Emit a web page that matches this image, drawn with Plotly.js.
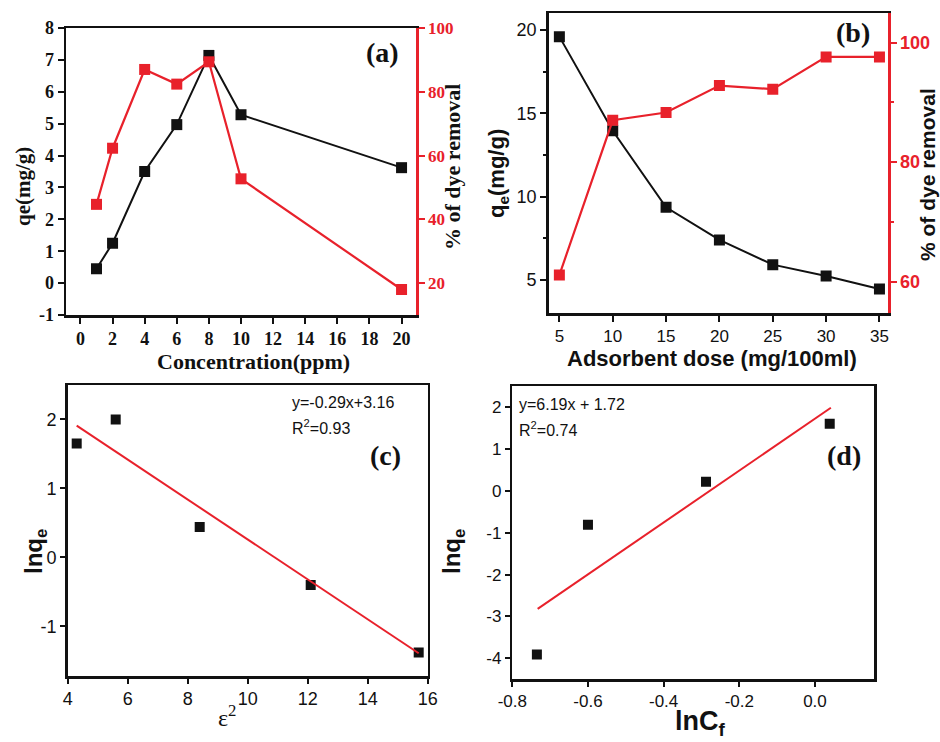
<!DOCTYPE html>
<html>
<head>
<meta charset="utf-8">
<script src="https://cdn.plot.ly/plotly-3.0.1.min.js"></script>
<style>html,body{margin:0;padding:0;background:#fff;}#chart{width:940px;height:742px;}</style>
</head>
<body>
<div id="chart"></div>
<script>
// ---- Data ----
// (a) effect of concentration
const concA = [1, 2, 4, 6, 8, 10, 20];
const qeA = [0.45, 1.25, 3.5, 4.97, 7.14, 5.28, 3.62];
const remA = [44.7, 62.3, 87.0, 82.4, 89.4, 52.7, 18.0];
const xTicksA = [0, 2, 4, 6, 8, 10, 12, 14, 16, 18, 20];
const yTicksA = [-1, 0, 1, 2, 3, 4, 5, 6, 7, 8];
const yLabelsA = ['-1', '0', '1', '2', '3', '4', '5', '6', '7', '8'];
const y2TicksA = [20, 40, 60, 80, 100];

// (b) effect of adsorbent dose
const doseB = [5, 10, 15, 20, 25, 30, 35];
const qeB = [19.6, 13.95, 9.36, 7.4, 5.92, 5.24, 4.46];
const remB = [61.1, 87.0, 88.3, 92.8, 92.2, 97.6, 97.6];
const yTicksB = [5, 10, 15, 20];
const y2TicksB = [60, 80, 100];

// (c) D-R isotherm
const eps2C = [4.3, 5.6, 8.4, 12.1, 15.7];
const lnqeC = [1.65, 2.0, 0.44, -0.40, -1.38];
const fitXC = [4.3, 15.7];
const fitYC = [1.91, -1.39];
const yTicksC = [-1, 0, 1, 2];
const yLabelsC = ['-1', '0', '1', '2'];

// (d) Freundlich-type fit
const lnCfD = [-0.735, -0.60, -0.288, 0.039];
const lnqeD = [-3.91, -0.81, 0.215, 1.60];
const fitXD = [-0.733, 0.042];
const fitYD = [-2.82, 1.98];
const xTicksD = [-0.8, -0.6, -0.4, -0.2, 0.0];
const xLabelsD = ['-0.8', '-0.6', '-0.4', '-0.2', '0.0'];
const yTicksD = [-4, -3, -2, -1, 0, 1, 2];
const yLabelsD = ['-4', '-3', '-2', '-1', '0', '1', '2'];

// ---- Styling ----
const W = 940, H = 742;
const RED = '#e8212b';
const SERIF = 'Liberation Serif, Times New Roman, serif';
const SANS = 'Liberation Sans, Arial, sans-serif';
const px = v => v / W;
const py = v => 1 - v / H;

const blackMarker = {symbol: 'square', size: 11, color: '#111'};
const redMarker = {symbol: 'square', size: 11, color: RED};

const traces = [
  {x: concA, y: qeA, xaxis: 'x', yaxis: 'y', mode: 'lines+markers',
   line: {color: '#111', width: 2}, marker: blackMarker, name: 'qe'},
  {x: concA, y: remA, xaxis: 'x', yaxis: 'y2', mode: 'lines+markers',
   line: {color: RED, width: 2.2}, marker: redMarker, name: '% removal'},
  {x: doseB, y: qeB, xaxis: 'x2', yaxis: 'y3', mode: 'lines+markers',
   line: {color: '#111', width: 2}, marker: blackMarker, name: 'qe'},
  {x: doseB, y: remB, xaxis: 'x2', yaxis: 'y4', mode: 'lines+markers',
   line: {color: RED, width: 2.2}, marker: redMarker, name: '% removal'},
  {x: eps2C, y: lnqeC, xaxis: 'x3', yaxis: 'y5', mode: 'markers',
   marker: {symbol: 'square', size: 10, color: '#111'}, name: 'data'},
  {x: fitXC, y: fitYC, xaxis: 'x3', yaxis: 'y5', mode: 'lines',
   line: {color: RED, width: 2}, name: 'fit'},
  {x: lnCfD, y: lnqeD, xaxis: 'x4', yaxis: 'y6', mode: 'markers',
   marker: {symbol: 'square', size: 10, color: '#111'}, name: 'data'},
  {x: fitXD, y: fitYD, xaxis: 'x4', yaxis: 'y6', mode: 'lines',
   line: {color: RED, width: 2}, name: 'fit'}
];

function ax(opts) {
  return Object.assign({
    showgrid: false, zeroline: false, showline: true, linecolor: '#111',
    linewidth: 2.5, ticks: 'outside', ticklen: 6, tickwidth: 2, tickcolor: '#111',
    fixedrange: true
  }, opts);
}

const fA = {family: SERIF, size: 18, color: '#111', weight: 'bold'};
const fB = {family: SANS, size: 17, color: '#111'};

const layout = {
  width: W, height: H,
  margin: {l: 0, r: 0, t: 0, b: 0},
  paper_bgcolor: '#fff', plot_bgcolor: 'rgba(0,0,0,0)',
  showlegend: false,
  // (a)
  xaxis: ax({domain: [px(66), px(416)], anchor: 'y', range: [-0.9, 20.9],
    tickvals: xTicksA, mirror: true, tickfont: fA}),
  yaxis: ax({domain: [py(315), py(28)], anchor: 'x', range: [-1, 8],
    tickvals: yTicksA, ticktext: yLabelsA, tickfont: fA}),
  yaxis2: ax({domain: [py(315), py(28)], anchor: 'x', overlaying: 'y', side: 'right',
    range: [10, 100], tickvals: y2TicksA, linecolor: RED, tickcolor: RED,
    tickfont: {family: SERIF, size: 17, color: RED, weight: 'bold'}}),
  // (b)
  xaxis2: ax({domain: [px(548.7), px(888)], anchor: 'y3', range: [4, 35.8],
    tickvals: doseB, mirror: true, tickfont: fB}),
  yaxis3: ax({domain: [py(313.3), py(13.3)], anchor: 'x2', range: [3, 21],
    tickvals: yTicksB, tickfont: {family: SANS, size: 18, color: '#111'},
    minor: {tickvals: [7.5, 12.5, 17.5], ticks: 'outside', ticklen: 3, tickwidth: 2, tickcolor: '#111'}}),
  yaxis4: ax({domain: [py(313.3), py(13.3)], anchor: 'x2', overlaying: 'y3', side: 'right',
    range: [54.7, 104.9], tickvals: y2TicksB, linecolor: RED, tickcolor: RED,
    tickfont: {family: SANS, size: 18, color: RED, weight: 'bold'},
    minor: {tickvals: [70, 90], ticks: 'outside', ticklen: 3, tickwidth: 2, tickcolor: RED}}),
  // (c)
  xaxis3: ax({domain: [px(67.7), px(427.7)], anchor: 'y5', range: [4, 16], dtick: 2,
    tick0: 4, mirror: true, ticklen: 5, tickfont: {family: SANS, size: 18, color: '#111'}}),
  yaxis5: ax({domain: [py(676), py(385)], anchor: 'x3', range: [-1.72, 2.5],
    tickvals: yTicksC, ticktext: yLabelsC, mirror: true, ticklen: 5,
    tickfont: {family: SANS, size: 18, color: '#111'}}),
  // (d)
  xaxis4: ax({domain: [px(512.3), px(874)], anchor: 'y6', range: [-0.8, 0.156],
    tickvals: xTicksD, ticktext: xLabelsD,
    mirror: true, ticklen: 5, tickfont: {family: SANS, size: 17, color: '#111'}}),
  yaxis6: ax({domain: [py(679.3), py(386)], anchor: 'x4', range: [-4.5, 2.5],
    tickvals: yTicksD, ticktext: yLabelsD, mirror: true, ticklen: 5,
    tickfont: {family: SANS, size: 17, color: '#111'}}),
  annotations: []
};

function note(text, x, y, font, extra) {
  layout.annotations.push(Object.assign({
    text: text, xref: 'paper', yref: 'paper', x: px(x), y: py(y),
    xanchor: 'center', yanchor: 'middle', showarrow: false, font: font
  }, extra || {}));
}

const panelFont = {family: SERIF, size: 28, color: '#111', weight: 'bold'};
// (a)
note('(a)', 382, 52, panelFont);
note('qe(mg/g)', 23, 187, {family: SERIF, size: 21, color: '#111', weight: 'bold'}, {textangle: -90});
note('% of dye removal', 452, 167, {family: SERIF, size: 22, color: '#111', weight: 'bold'}, {textangle: -90});
note('Concentration(ppm)', 253, 362, {family: SERIF, size: 22, color: '#111', weight: 'bold'});
// (b)
note('(b)', 853, 33, panelFont);
note('q<sub>e</sub>(mg/g)', 498, 174, {family: SANS, size: 22, color: '#111', weight: 'bold'}, {textangle: -90});
note('% of dye removal', 927, 175, {family: SANS, size: 21, color: '#111', weight: 'bold'}, {textangle: -90});
note('Adsorbent dose (mg/100ml)', 712, 359, {family: SANS, size: 22, color: '#111', weight: 'bold'});
// (c)
note('(c)', 385, 455, panelFont);
note('lnq<sub>e</sub>', 35, 552, {family: SANS, size: 24, color: '#111', weight: 'bold'}, {textangle: -90});
note('ε<sup>2</sup>', 227, 716, {family: SERIF, size: 24, color: '#111'});
note('y=-0.29x+3.16', 290, 402, {family: SANS, size: 16, color: '#111'}, {xanchor: 'left'});
note('R<sup>2</sup>=0.93', 290, 427, {family: SANS, size: 16, color: '#111'}, {xanchor: 'left'});
// (d)
note('(d)', 844, 455, panelFont);
note('lnq<sub>e</sub>', 453, 552, {family: SANS, size: 24, color: '#111', weight: 'bold'}, {textangle: -90});
note('lnC<sub>f</sub>', 700, 723, {family: SANS, size: 27, color: '#111', weight: 'bold'});
note('y=6.19x + 1.72', 517, 404, {family: SANS, size: 16, color: '#111'}, {xanchor: 'left'});
note('R<sup>2</sup>=0.74', 517, 429, {family: SANS, size: 16, color: '#111'}, {xanchor: 'left'});

Plotly.newPlot('chart', traces, layout, {staticPlot: true, displayModeBar: false});
</script>
</body>
</html>
